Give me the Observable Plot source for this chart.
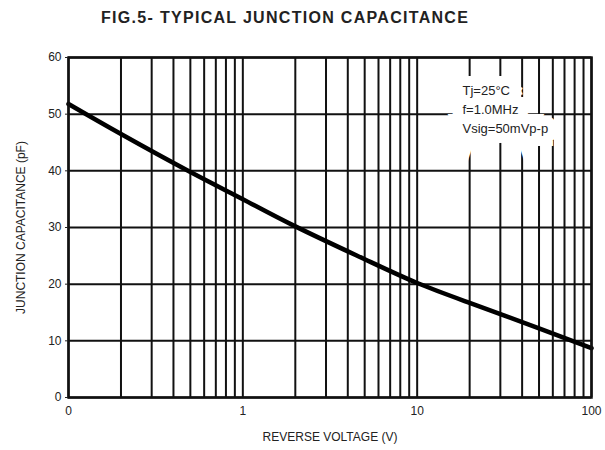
<!DOCTYPE html>
<html>
<head>
<meta charset="utf-8">
<script src="https://cdn.jsdelivr.net/npm/d3@7"></script>
<script src="https://cdn.jsdelivr.net/npm/@observablehq/plot@0.6"></script>
<style>
  html, body { margin: 0; padding: 0; background: #fff; }
  #title { height: 36px; line-height: 36px; font-family: "Liberation Sans", Arial, sans-serif; font-weight: bold; font-size: 16px; color: #222; padding-left: 101px; letter-spacing: 1.3px; }
  #chart svg { display: block; }
</style>
</head>
<body>
<div id="title">FIG.5- TYPICAL JUNCTION CAPACITANCE</div>
<div id="chart"></div>
<script>
// Reverse voltage (V) and junction capacitance (pF)
const voltage     = [0.1, 0.2, 0.5, 1, 2, 5, 10, 20, 50, 100];
const capacitance = [51.8, 46.5, 39.8, 35.0, 30.2, 24.4, 20.2, 16.7, 12.2, 8.7];

// Axis ticks and labels
const xTicks = [0.1, 1, 10, 100];
const xTickLabels = ["0", "1", "10", "100"];
const yTicks = [0, 10, 20, 30, 40, 50, 60];

// Log grid lines
const xGrid = [0.1,0.2,0.3,0.4,0.5,0.6,0.7,0.8,0.9,1,2,3,4,5,6,7,8,9,10,20,30,40,50,60,70,80,90,100];

const notes = ["Tj=25°C", "f=1.0MHz", "Vsig=50mVp-p"];

const data = voltage.map((v, i) => ({v, c: capacitance[i]}));
const xLabelOf = new Map(xTicks.map((t, i) => [t, xTickLabels[i]]));

const noteOpts = {
  frameAnchor: "top-right", textAnchor: "start", lineAnchor: "top",
  dx: -129, dy: 24, lineHeight: 1.45, fontSize: 13
};

const chart = Plot.plot({
  width: 605,
  height: 414,
  marginTop: 21,
  marginBottom: 53,
  marginLeft: 68,
  marginRight: 14,
  style: {fontFamily: "'Liberation Sans', Arial, sans-serif", fontSize: "12px", color: "#222"},
  x: {type: "log", domain: [0.1, 100]},
  y: {domain: [0, 60]},
  marks: [
    Plot.ruleX(xGrid, {stroke: "#111", strokeWidth: 2}),
    Plot.ruleY(yTicks, {stroke: "#111", strokeWidth: 2}),
    Plot.text([notes.join("\n")], {...noteOpts, fill: "white", stroke: "white", strokeWidth: 20, strokeLinejoin: "miter"}),
    Plot.text([notes.join("\n")], {...noteOpts, fill: "#222"}),
    Plot.line(data, {x: "v", y: "c", curve: "natural", stroke: "#000", strokeWidth: 4.5}),
    Plot.frame({stroke: "#111", strokeWidth: 2.5}),
    Plot.axisX({ticks: xTicks, tickFormat: d => xLabelOf.get(d), tickSize: 0, tickPadding: 9,
      label: "REVERSE VOLTAGE (V)", labelAnchor: "center", labelArrow: "none", labelOffset: 43, fontSize: 12}),
    Plot.axisY({ticks: yTicks, tickSize: 3, tickPadding: 4,
      label: "JUNCTION CAPACITANCE (pF)", labelAnchor: "center", labelArrow: "none", labelOffset: 52, fontSize: 12})
  ]
});
document.getElementById("chart").appendChild(chart);
</script>
</body>
</html>
